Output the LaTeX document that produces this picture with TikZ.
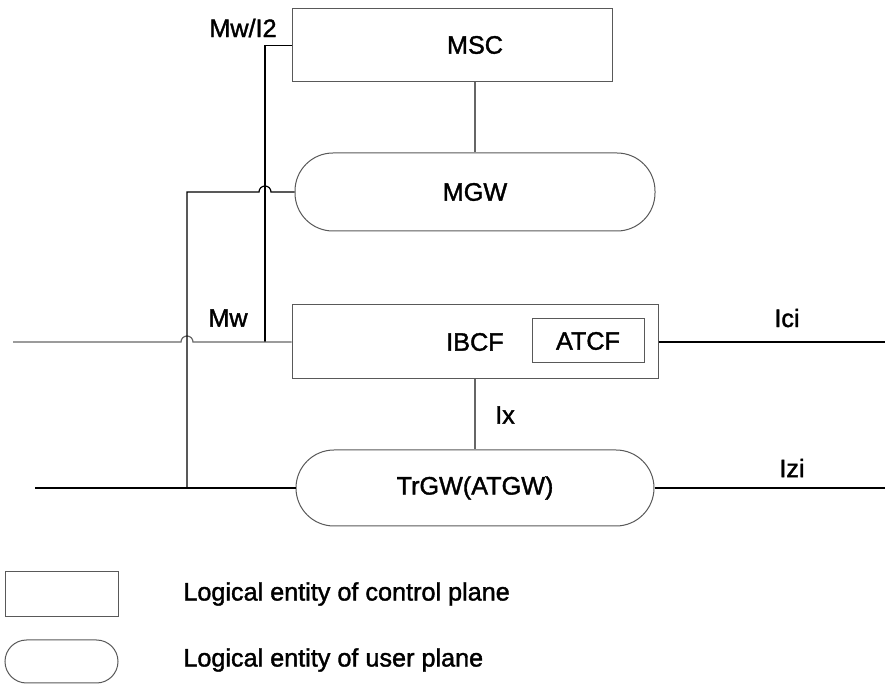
\documentclass[tikz,border=0pt]{standalone}
\usepackage{fontspec}
\setmainfont{Liberation Sans}[FakeBold=1.5]
\usetikzlibrary{positioning}

\begin{document}
\begin{tikzpicture}[
  x=0.5pt, y=0.5pt,
  every node/.style = {font=\fontsize{12.6}{15}\selectfont, inner sep=0pt},
  ctrl/.style  = {draw=black!65, line width=0.5pt, rectangle},
  usr/.style   = {draw=black!65, line width=0.5pt, rectangle,
                  rounded corners=19pt},
  link/.style  = {draw=black, line width=0.6pt},
  flink/.style = {draw=black!60, line width=0.6pt},
  hlink/.style = {draw=black, line width=0.85pt},
]
\useasboundingbox (0,0) rectangle (885,-684);

%% ── Column positions ──────────────────────────────────────────────────────────
\def\cL{13}   % left end of Mw line
\def\cB{35}   % left end of bottom line
\def\cJ{187}  % MGW drop
\def\cK{265}  % Mw/I2 drop
\def\cM{475}  % centre column
\def\cR{885}  % right edge

%% ── Entities ─────────────────────────────────────────────────────────────────
\node[ctrl, minimum width=160pt, minimum height=36.5pt] (msc) at (452,-45.5) {};
\node (msclbl) at (\cM,-45) {MSC};
\node[usr, minimum width=180pt, minimum height=39pt] (mgw) at (\cM,-192) {MGW};
\node[ctrl, minimum width=183pt, minimum height=37pt] (ibcf) at (\cM,-342) {IBCF};
\node[ctrl, minimum width=56pt, minimum height=22pt] (atcf) at (588,-341) {ATCF};
\node[usr, minimum width=179pt, minimum height=38pt] (trgw) at (\cM,-488) {TrGW(ATGW)};

%% ── Line ends ────────────────────────────────────────────────────────────────
\coordinate (mwend)  at (\cL,-342);
\coordinate (izend)  at (\cB,-488);
\coordinate (icend)  at (\cR,-342);
\coordinate (izrend) at (\cR,-488);
\coordinate (mwjoin) at (\cK,-342);
\coordinate (gwjoin) at (\cJ,-488);

%% ── Connectors ───────────────────────────────────────────────────────────────
\draw[flink] (mgw.north |- msc.south) -- (mgw.north);
\draw[flink] (ibcf.south) -- (trgw.north);
\draw[link] (msc.west) -| (mwjoin);
\draw[flink] (mwend) -- (\cJ-6,-342) arc[start angle=180, end angle=0, radius=3pt]
  -- (ibcf.west);
\draw[link] (mgw.west) -- (\cK+6,-192) arc[start angle=0, end angle=180, radius=3pt]
  -- (\cJ,-192) -- (gwjoin);
\draw[hlink] (izend) -- (trgw.west);
\draw[hlink] (ibcf.east) -- (icend);
\draw[hlink] (trgw.east) -- (izrend);

%% ── Interface labels ─────────────────────────────────────────────────────────
\node (lblmwi) at (243,-28)  {Mw/I2};
\node (lblmw)  at (228,-318) {Mw};
\node (lblix)  at (505,-415) {Ix};
\node (lblici) at (787,-318) {Ici};
\node (lblizi) at (792,-468) {Izi};

%% ── Legend ───────────────────────────────────────────────────────────────────
\node[ctrl, minimum width=56.5pt, minimum height=22.5pt] (keyctrl) at (61.5,-594.5) {};
\node[usr, rounded corners=10.75pt, minimum width=56.5pt, minimum height=21.5pt]
  (keyusr) at (61.5,-661.5) {};
\node[anchor=west] (keyctrltxt) at (183,-594) {Logical entity of control plane};
\node[anchor=west] (keyusrtxt)  at (183,-660) {Logical entity of user plane};

\end{tikzpicture}
\end{document}
